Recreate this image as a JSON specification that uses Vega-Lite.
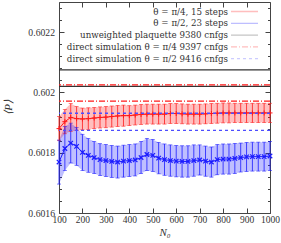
{
  "$schema": "https://vega.github.io/schema/vega-lite/v6.json",
  "width": 211,
  "height": 211,
  "autosize": "none",
  "padding": {"left": 59, "top": 2, "right": 11, "bottom": 30},
  "config": {
    "view": {"stroke": "#444", "strokeWidth": 1},
    "font": "Liberation Serif",
    "axis": {"labelFont": "Liberation Serif", "labelFontSize": 10, "labelColor": "#333", "titleFont": "Liberation Serif", "titleFontWeight": "normal", "titleColor": "#333", "tickColor": "#444", "domain": false, "grid": false, "labelOverlap": false, "labelFlush": false}
  },
  "datasets": {
    "mc": [
      {"series": "θ = π/4, 15 steps", "N": 100, "P": 0.601880, "e": 0.000040},
      {"series": "θ = π/4, 15 steps", "N": 125, "P": 0.601903, "e": 0.000040},
      {"series": "θ = π/4, 15 steps", "N": 150, "P": 0.601917, "e": 0.000046},
      {"series": "θ = π/4, 15 steps", "N": 175, "P": 0.601913, "e": 0.000040},
      {"series": "θ = π/4, 15 steps", "N": 200, "P": 0.601912, "e": 0.000036},
      {"series": "θ = π/4, 15 steps", "N": 225, "P": 0.601913, "e": 0.000036},
      {"series": "θ = π/4, 15 steps", "N": 250, "P": 0.601915, "e": 0.000035},
      {"series": "θ = π/4, 15 steps", "N": 275, "P": 0.601917, "e": 0.000035},
      {"series": "θ = π/4, 15 steps", "N": 300, "P": 0.601918, "e": 0.000035},
      {"series": "θ = π/4, 15 steps", "N": 325, "P": 0.601920, "e": 0.000035},
      {"series": "θ = π/4, 15 steps", "N": 350, "P": 0.601922, "e": 0.000035},
      {"series": "θ = π/4, 15 steps", "N": 375, "P": 0.601923, "e": 0.000035},
      {"series": "θ = π/4, 15 steps", "N": 400, "P": 0.601923, "e": 0.000033},
      {"series": "θ = π/4, 15 steps", "N": 425, "P": 0.601925, "e": 0.000033},
      {"series": "θ = π/4, 15 steps", "N": 450, "P": 0.601927, "e": 0.000033},
      {"series": "θ = π/4, 15 steps", "N": 475, "P": 0.601928, "e": 0.000033},
      {"series": "θ = π/4, 15 steps", "N": 500, "P": 0.601928, "e": 0.000033},
      {"series": "θ = π/4, 15 steps", "N": 525, "P": 0.601928, "e": 0.000033},
      {"series": "θ = π/4, 15 steps", "N": 550, "P": 0.601928, "e": 0.000033},
      {"series": "θ = π/4, 15 steps", "N": 575, "P": 0.601930, "e": 0.000033},
      {"series": "θ = π/4, 15 steps", "N": 600, "P": 0.601930, "e": 0.000033},
      {"series": "θ = π/4, 15 steps", "N": 625, "P": 0.601929, "e": 0.000033},
      {"series": "θ = π/4, 15 steps", "N": 650, "P": 0.601928, "e": 0.000033},
      {"series": "θ = π/4, 15 steps", "N": 675, "P": 0.601928, "e": 0.000033},
      {"series": "θ = π/4, 15 steps", "N": 700, "P": 0.601928, "e": 0.000033},
      {"series": "θ = π/4, 15 steps", "N": 725, "P": 0.601929, "e": 0.000033},
      {"series": "θ = π/4, 15 steps", "N": 750, "P": 0.601930, "e": 0.000033},
      {"series": "θ = π/4, 15 steps", "N": 775, "P": 0.601931, "e": 0.000033},
      {"series": "θ = π/4, 15 steps", "N": 800, "P": 0.601932, "e": 0.000033},
      {"series": "θ = π/4, 15 steps", "N": 825, "P": 0.601932, "e": 0.000033},
      {"series": "θ = π/4, 15 steps", "N": 850, "P": 0.601932, "e": 0.000032},
      {"series": "θ = π/4, 15 steps", "N": 875, "P": 0.601932, "e": 0.000032},
      {"series": "θ = π/4, 15 steps", "N": 900, "P": 0.601932, "e": 0.000032},
      {"series": "θ = π/4, 15 steps", "N": 925, "P": 0.601932, "e": 0.000032},
      {"series": "θ = π/4, 15 steps", "N": 950, "P": 0.601932, "e": 0.000032},
      {"series": "θ = π/4, 15 steps", "N": 975, "P": 0.601932, "e": 0.000032},
      {"series": "θ = π/4, 15 steps", "N": 1000, "P": 0.601932, "e": 0.000032},
      {"series": "θ = π/2, 23 steps", "N": 100, "P": 0.601769, "e": 0.000073},
      {"series": "θ = π/2, 23 steps", "N": 125, "P": 0.601814, "e": 0.000073},
      {"series": "θ = π/2, 23 steps", "N": 150, "P": 0.601832, "e": 0.000066},
      {"series": "θ = π/2, 23 steps", "N": 175, "P": 0.601821, "e": 0.000063},
      {"series": "θ = π/2, 23 steps", "N": 200, "P": 0.601801, "e": 0.000060},
      {"series": "θ = π/2, 23 steps", "N": 225, "P": 0.601791, "e": 0.000056},
      {"series": "θ = π/2, 23 steps", "N": 250, "P": 0.601784, "e": 0.000053},
      {"series": "θ = π/2, 23 steps", "N": 275, "P": 0.601777, "e": 0.000053},
      {"series": "θ = π/2, 23 steps", "N": 300, "P": 0.601774, "e": 0.000053},
      {"series": "θ = π/2, 23 steps", "N": 325, "P": 0.601771, "e": 0.000053},
      {"series": "θ = π/2, 23 steps", "N": 350, "P": 0.601769, "e": 0.000053},
      {"series": "θ = π/2, 23 steps", "N": 375, "P": 0.601772, "e": 0.000053},
      {"series": "θ = π/2, 23 steps", "N": 400, "P": 0.601774, "e": 0.000053},
      {"series": "θ = π/2, 23 steps", "N": 425, "P": 0.601776, "e": 0.000053},
      {"series": "θ = π/2, 23 steps", "N": 450, "P": 0.601784, "e": 0.000053},
      {"series": "θ = π/2, 23 steps", "N": 475, "P": 0.601794, "e": 0.000053},
      {"series": "θ = π/2, 23 steps", "N": 500, "P": 0.601791, "e": 0.000053},
      {"series": "θ = π/2, 23 steps", "N": 525, "P": 0.601782, "e": 0.000052},
      {"series": "θ = π/2, 23 steps", "N": 550, "P": 0.601777, "e": 0.000052},
      {"series": "θ = π/2, 23 steps", "N": 575, "P": 0.601774, "e": 0.000052},
      {"series": "θ = π/2, 23 steps", "N": 600, "P": 0.601772, "e": 0.000052},
      {"series": "θ = π/2, 23 steps", "N": 625, "P": 0.601771, "e": 0.000052},
      {"series": "θ = π/2, 23 steps", "N": 650, "P": 0.601771, "e": 0.000052},
      {"series": "θ = π/2, 23 steps", "N": 675, "P": 0.601774, "e": 0.000052},
      {"series": "θ = π/2, 23 steps", "N": 700, "P": 0.601776, "e": 0.000050},
      {"series": "θ = π/2, 23 steps", "N": 725, "P": 0.601772, "e": 0.000050},
      {"series": "θ = π/2, 23 steps", "N": 750, "P": 0.601769, "e": 0.000050},
      {"series": "θ = π/2, 23 steps", "N": 775, "P": 0.601777, "e": 0.000050},
      {"series": "θ = π/2, 23 steps", "N": 800, "P": 0.601779, "e": 0.000050},
      {"series": "θ = π/2, 23 steps", "N": 825, "P": 0.601779, "e": 0.000050},
      {"series": "θ = π/2, 23 steps", "N": 850, "P": 0.601781, "e": 0.000050},
      {"series": "θ = π/2, 23 steps", "N": 875, "P": 0.601784, "e": 0.000048},
      {"series": "θ = π/2, 23 steps", "N": 900, "P": 0.601786, "e": 0.000048},
      {"series": "θ = π/2, 23 steps", "N": 925, "P": 0.601787, "e": 0.000048},
      {"series": "θ = π/2, 23 steps", "N": 950, "P": 0.601787, "e": 0.000048},
      {"series": "θ = π/2, 23 steps", "N": 975, "P": 0.601787, "e": 0.000048},
      {"series": "θ = π/2, 23 steps", "N": 1000, "P": 0.601789, "e": 0.000048}
    ],
    "ref": [
      {"series": "unweighted plaquette 9380 cnfgs", "bound": "upper", "P": 0.602075},
      {"series": "unweighted plaquette 9380 cnfgs", "bound": "lower", "P": 0.602020},
      {"series": "direct simulation θ = π/4 9397 cnfgs", "bound": "upper", "P": 0.602025},
      {"series": "direct simulation θ = π/4 9397 cnfgs", "bound": "lower", "P": 0.601971},
      {"series": "direct simulation θ = π/2 9416 cnfgs", "bound": "upper", "P": 0.601931},
      {"series": "direct simulation θ = π/2 9416 cnfgs", "bound": "lower", "P": 0.601874}
    ]
  },
  "layer": [
    {
      "data": {"name": "mc"},
      "mark": {"type": "errorband", "opacity": 0.28},
      "encoding": {
        "x": {"field": "N", "type": "quantitative", "scale": {"domain": [100, 1000], "nice": false},
          "axis": {"orient": "bottom", "values": [100,200,300,400,500,600,700,800,900,1000], "format": "d", "tickSize": -5, "labelPadding": 6.5, "labelFontSize": 9.5, "title": "N₀", "titleFontStyle": "italic", "titleFontSize": 11, "titlePadding": 2}},
        "y": {"field": "P", "type": "quantitative", "scale": {"domain": [0.6016, 0.6023], "nice": false, "zero": false},
          "axis": {"orient": "left",
            "values": [0.6016,0.60164,0.60168,0.60172,0.60176,0.6018,0.60184,0.60188,0.60192,0.60196,0.602,0.60204,0.60208,0.60212,0.60216,0.6022,0.60224,0.60228],
            "labelExpr": "abs(datum.value*5000-round(datum.value*5000))<0.001 ? format(datum.value,'~g') : ''",
            "tickSize": {"condition": {"test": "abs(datum.value*5000-round(datum.value*5000))<0.001", "value": -5}, "value": -2.5},
            "labelPadding": 9.5, "labelFontSize": 9.7,
            "title": "⟨P⟩", "titleFontStyle": "italic", "titleFontSize": 11, "titleX": -51, "titleY": 105, "titleAngle": -90, "titleBaseline": "middle", "titleAlign": "center"}},
        "yError": {"field": "e"},
        "color": {"field": "series", "type": "nominal",
          "scale": {"domain": ["θ = π/4, 15 steps", "θ = π/2, 23 steps", "unweighted plaquette 9380 cnfgs", "direct simulation θ = π/4 9397 cnfgs", "direct simulation θ = π/2 9416 cnfgs"],
            "range": ["#ff1a1a", "#1a1aff", "#333333", "#ff1a1a", "#4d4dff"]},
          "legend": {"title": null, "orient": "none", "legendX": 180, "legendY": 4, "padding": 0,
            "labelFont": "DejaVu Serif", "labelFontSize": 8.7, "labelColor": "#333", "labelAlign": "right", "labelOffset": -22, "labelLimit": 300,
            "rowPadding": 0.8, "symbolSize": 81, "symbolStrokeWidth": 1.3, "symbolType": "M-3,0H3",
            "encode": {"symbols": {"update": {
              "shape": {"signal": "indexof(datum.value, 'π/4, 15') >= 0 ? 'M-3,0H3M-3,-0.6V0.6M3,-0.6V0.6M0,-0.6V0.6' : indexof(datum.value, 'π/2, 23') >= 0 ? 'M-3,0H3M-3,-0.6V0.6M3,-0.6V0.6M-0.5,-0.5L0.5,0.5M-0.5,0.5L0.5,-0.5' : 'M-3,0H3'"},
              "fill": {"value": "transparent"},
              "stroke": {"scale": "color", "field": "value"},
              "strokeDash": {"scale": "strokeDash", "field": "value"},
              "strokeWidth": {"value": 1.3},
              "opacity": {"value": 1}
            }}}}}
      }
    },
    {
      "data": {"name": "mc"},
      "mark": {"type": "errorbar", "ticks": {"size": 4}, "thickness": 0.8},
      "encoding": {
        "x": {"field": "N", "type": "quantitative", "axis": null},
        "y": {"field": "P", "type": "quantitative", "axis": null},
        "yError": {"field": "e"},
        "color": {"field": "series", "type": "nominal"}
      }
    },
    {
      "data": {"name": "mc"},
      "mark": {"type": "line", "strokeWidth": 1},
      "encoding": {
        "x": {"field": "N", "type": "quantitative", "axis": null},
        "y": {"field": "P", "type": "quantitative", "axis": null},
        "color": {"field": "series", "type": "nominal"}
      }
    },
    {
      "data": {"name": "mc"},
      "transform": [{"filter": {"field": "series", "equal": "θ = π/4, 15 steps"}}],
      "mark": {"type": "point", "shape": "M-1,0H1M0,-1V1", "size": 25, "filled": false, "strokeWidth": 1, "color": "#ff1a1a", "opacity": 1},
      "encoding": {
        "x": {"field": "N", "type": "quantitative", "axis": {"orient": "top", "values": [100,200,300,400,500,600,700,800,900,1000], "tickSize": -5, "labels": false, "title": null}},
        "y": {"field": "P", "type": "quantitative", "axis": null}
      }
    },
    {
      "data": {"name": "mc"},
      "transform": [{"filter": {"field": "series", "equal": "θ = π/2, 23 steps"}}],
      "mark": {"type": "point", "shape": "M-1,-1L1,1M-1,1L1,-1", "size": 20, "filled": false, "strokeWidth": 1.2, "color": "#1a1aff", "opacity": 1},
      "encoding": {
        "x": {"field": "N", "type": "quantitative", "axis": null},
        "y": {"field": "P", "type": "quantitative",
          "axis": {"orient": "right",
            "values": [0.6016,0.60164,0.60168,0.60172,0.60176,0.6018,0.60184,0.60188,0.60192,0.60196,0.602,0.60204,0.60208,0.60212,0.60216,0.6022,0.60224,0.60228],
            "labels": false, "title": null,
            "tickSize": {"condition": {"test": "abs(datum.value*5000-round(datum.value*5000))<0.001", "value": -5}, "value": -2.5}}}
      }
    },
    {
      "data": {"name": "ref"},
      "mark": {"type": "rule", "strokeWidth": 1.3},
      "encoding": {
        "y": {"field": "P", "type": "quantitative", "axis": null},
        "color": {"field": "series", "type": "nominal"},
        "strokeDash": {"field": "series", "type": "nominal", "legend": null,
          "scale": {"domain": ["θ = π/4, 15 steps", "θ = π/2, 23 steps", "unweighted plaquette 9380 cnfgs", "direct simulation θ = π/4 9397 cnfgs", "direct simulation θ = π/2 9416 cnfgs"],
            "range": [[1, 0], [1, 0], [1, 0], [6, 2, 1, 2], [3, 3]]}}
      }
    }
  ],
  "resolve": {"axis": {"x": "independent", "y": "independent"}}
}
